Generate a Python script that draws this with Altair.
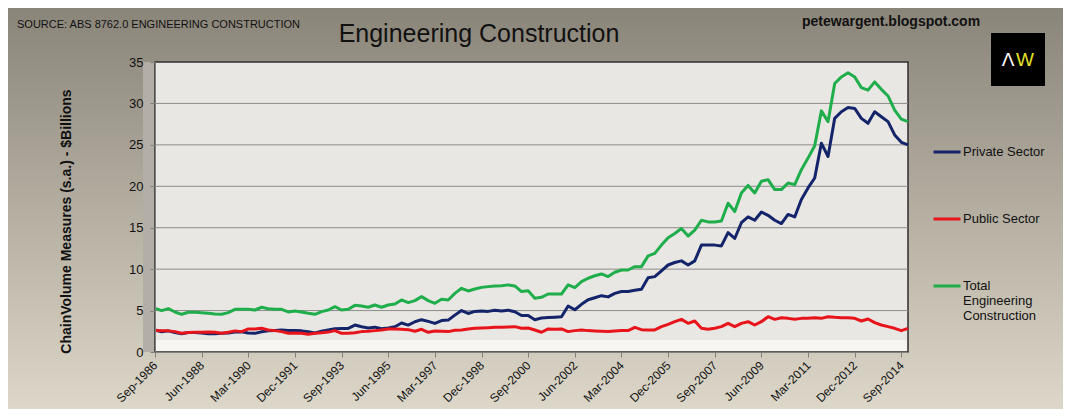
import pandas as pd
import altair as alt

# trimestres Sep-1986 .. Dec-2014
meses = ['Mar', 'Jun', 'Sep', 'Dec']
quarters = []
ano, q = 1986, 2
for _ in range(114):
    quarters.append(f"{meses[q]}-{ano}")
    q += 1
    if q == 4:
        q, ano = 0, ano + 1

tick_labels = ['Sep-1986', 'Jun-1988', 'Mar-1990', 'Dec-1991', 'Sep-1993', 'Jun-1995',
               'Mar-1997', 'Dec-1998', 'Sep-2000', 'Jun-2002', 'Mar-2004', 'Dec-2005',
               'Sep-2007', 'Jun-2009', 'Mar-2011', 'Dec-2012', 'Sep-2014']
y_ticks = [0, 5, 10, 15, 20, 25, 30, 35]
grid_values = [5, 10, 15, 20, 25, 30]

private_sector = [
    2.65, 2.45, 2.55, 2.35, 2.2, 2.35, 2.35, 2.3, 2.2, 2.2,
    2.25, 2.3, 2.4, 2.45, 2.3, 2.25, 2.45, 2.55, 2.6, 2.65,
    2.6, 2.6, 2.55, 2.45, 2.3, 2.5, 2.65, 2.8, 2.85, 2.85,
    3.25, 3.05, 2.9, 3.0, 2.8, 2.9, 3.05, 3.5, 3.25, 3.65,
    3.9, 3.7, 3.45, 3.8, 3.85, 4.45, 5.0, 4.65, 4.9, 4.95,
    4.9, 5.05, 4.95, 5.05, 4.85, 4.4, 4.4, 3.9, 4.1, 4.15,
    4.2, 4.25, 5.55, 5.1, 5.75, 6.3, 6.55, 6.8, 6.65, 7.08,
    7.3, 7.3, 7.45, 7.57, 8.95, 9.1, 9.8, 10.5, 10.8, 11.0,
    10.5, 11.0, 12.9, 12.9, 12.9, 12.8, 14.4, 13.7, 15.6, 16.3,
    15.9, 16.9, 16.5, 15.9, 15.5, 16.6, 16.3, 18.4, 19.8, 21.0,
    25.2, 23.6, 28.2, 29.0, 29.5, 29.4, 28.2, 27.6, 29.0, 28.4,
    27.8, 26.2, 25.3, 25.0,
]
public_sector = [
    2.6, 2.55, 2.55, 2.46, 2.26, 2.35, 2.38, 2.38, 2.4, 2.38,
    2.26, 2.38, 2.55, 2.46, 2.78, 2.78, 2.86, 2.66, 2.58, 2.46,
    2.26, 2.3, 2.26, 2.13, 2.26, 2.33, 2.4, 2.58, 2.26, 2.26,
    2.33, 2.46, 2.5, 2.58, 2.66, 2.78, 2.78, 2.74, 2.7, 2.5,
    2.74, 2.38, 2.54, 2.5, 2.46, 2.62, 2.66, 2.78, 2.86, 2.9,
    2.94, 2.98, 2.98, 3.02, 3.06, 2.86, 2.9, 2.66, 2.38, 2.78,
    2.74, 2.78, 2.46, 2.58, 2.66, 2.58, 2.54, 2.5, 2.46, 2.54,
    2.58, 2.58, 2.98, 2.7, 2.66, 2.66, 3.06, 3.34, 3.66, 3.94,
    3.46, 3.74, 2.86, 2.74, 2.86, 3.06, 3.46, 3.06, 3.46, 3.66,
    3.26, 3.66, 4.26, 3.94, 4.14, 4.06, 3.94, 4.06, 4.06, 4.14,
    4.06, 4.26, 4.18, 4.14, 4.14, 4.06, 3.74, 3.98, 3.54, 3.26,
    3.06, 2.86, 2.58, 2.86,
]
total_engineering = [
    5.27, 5.0, 5.23, 4.83, 4.55, 4.79, 4.79, 4.75, 4.67, 4.6,
    4.55, 4.75, 5.15, 5.15, 5.15, 5.07, 5.4, 5.23, 5.15, 5.15,
    4.83, 4.95, 4.83, 4.67, 4.55, 4.87, 5.07, 5.47, 5.07, 5.15,
    5.63, 5.55, 5.4, 5.67, 5.4, 5.67, 5.8, 6.28, 5.96, 6.2,
    6.68, 6.2, 5.88, 6.36, 6.28, 7.08, 7.69, 7.37, 7.6, 7.8,
    7.89, 7.97, 8.0, 8.1, 7.97, 7.29, 7.4, 6.48, 6.6, 7.0,
    7.0, 7.0, 8.1, 7.77, 8.5, 8.9, 9.2, 9.42, 9.1, 9.62,
    9.9, 9.9, 10.3, 10.3, 11.6, 11.9, 12.9, 13.8, 14.3, 14.9,
    14.0, 14.7, 15.9, 15.7, 15.7, 15.8, 17.96, 16.95, 19.2, 20.1,
    19.2, 20.6, 20.8, 19.6, 19.6, 20.4, 20.2, 22.0, 23.4, 24.9,
    29.1, 27.8, 32.4, 33.2, 33.7, 33.2, 31.9, 31.6, 32.6, 31.7,
    30.9, 29.2, 28.1, 27.8,
]

series_names = ['Private Sector', 'Public Sector', 'Total Engineering Construction']
series_colors = ['#14246a', '#e8141b', '#1fae4b']

W, H = 753, 290
FONTE = 'Liberation Sans, Arial, sans-serif'
TITULO_Y = 'ChainVolume Measures (s.a.) - $Billions'

df = pd.DataFrame({
    'trimestre': quarters * 3,
    'serie': [series_names[0]] * 114 + [series_names[1]] * 114 + [series_names[2]] * 114,
    'valor': private_sector + public_sector + total_engineering,
})
um = pd.DataFrame({'k': [0]})
escala_y = alt.Scale(domain=[0, 35], nice=False)

eixo_y = alt.Axis(values=y_ticks, grid=False, labelFontSize=13, labelFont=FONTE,
                  labelColor='#111', labelPadding=7, tickSize=5, tickColor='#808080',
                  domainColor='#808080', titleFontSize=14, titleFont=FONTE, titleFontWeight='bold',
                  titleColor='#111', titleAngle=270, titleX=-89, titleY=159, titleAlign='center',
                  titleBaseline='middle', zindex=1)

# fundo do quadro (degradê) e parede do gráfico
fundo = alt.Chart(um).mark_rect(
    color=alt.Gradient(gradient='linear', x1=0, x2=0, y1=0, y2=1,
                       stops=[alt.GradientStop(color='#8a8579', offset=0),
                              alt.GradientStop(color='#dcd7c8', offset=1)])
).encode(x=alt.value(-147), x2=alt.value(W + 155), y=alt.value(-54), y2=alt.value(H + 57))

lateral = alt.Chart(um).mark_rect(color='#b3afa6').encode(
    x=alt.value(-12), x2=alt.value(0), y=alt.value(0), y2=alt.value(H))
parede = alt.Chart(um).mark_rect(fill='#e8e7e3', stroke='#2e2e2e', strokeWidth=1.5).encode(
    x=alt.value(0), x2=alt.value(W), y=alt.value(0), y2=alt.value(H))
piso = alt.Chart(um).mark_rect(color='#f6f5f2').encode(
    x=alt.value(1), x2=alt.value(W - 1), y=alt.value(H - 12), y2=alt.value(H - 1))

grade = alt.Chart(pd.DataFrame({'g': grid_values})).mark_rule(color='#8c8c8c', strokeWidth=1).encode(
    y=alt.Y('g:Q', scale=escala_y, axis=eixo_y, title=TITULO_Y))

linhas = alt.Chart(df).mark_line(strokeWidth=3, strokeJoin='round').encode(
    x=alt.X('trimestre:O', sort=quarters, scale=alt.Scale(type='point', padding=0),
            axis=alt.Axis(values=tick_labels, labelAngle=-45, labelAlign='right', labelBaseline='middle',
                          labelFontSize=12, labelFont=FONTE, labelColor='#111', labelPadding=6,
                          tickSize=5, tickColor='#808080', domainColor='#808080', title=None, zindex=1)),
    y=alt.Y('valor:Q', scale=escala_y, title=TITULO_Y, axis=eixo_y),
    color=alt.Color('serie:N', scale=alt.Scale(domain=series_names, range=series_colors),
                    legend=alt.Legend(title=None, orient='none', legendX=777, legendY=75,
                                      symbolType='stroke', symbolSize=729, symbolStrokeWidth=3,
                                      labelFontSize=13, labelFont=FONTE, labelColor='#111',
                                      labelOffset=1, labelLimit=200, rowPadding=45,
                                      labelExpr="datum.label == 'Total Engineering Construction' ? "
                                                "['Total', 'Engineering', 'Construction'] : datum.label")),
)

titulo = alt.Chart(um).mark_text(text='Engineering Construction', align='center', baseline='alphabetic',
                                 fontSize=25, font=FONTE, color='#111').encode(
    x=alt.value(324), y=alt.value(-20))
fonte = alt.Chart(um).mark_text(text='SOURCE: ABS 8762.0 ENGINEERING CONSTRUCTION', align='left',
                                baseline='alphabetic', fontSize=11, font=FONTE, color='#111').encode(
    x=alt.value(-138), y=alt.value(-34))
blog = alt.Chart(um).mark_text(text='petewargent.blogspot.com', align='left', baseline='alphabetic',
                               fontSize=14, fontWeight='bold', font=FONTE, color='#111').encode(
    x=alt.value(647), y=alt.value(-36))
logo = alt.Chart(um).mark_rect(color='#000000').encode(
    x=alt.value(836), x2=alt.value(890), y=alt.value(-29), y2=alt.value(24))
logo_a = alt.Chart(um).mark_text(text='Λ', fontSize=19, font=FONTE, color='#ffffff',
                                 baseline='middle').encode(x=alt.value(853), y=alt.value(-2))
logo_w = alt.Chart(um).mark_text(text='W', fontSize=19, font=FONTE, color='#e4e02a',
                                 baseline='middle').encode(x=alt.value(870), y=alt.value(-2))

chart = alt.layer(fundo, lateral, parede, piso, grade, linhas,
                  titulo, fonte, blog, logo, logo_a, logo_w).properties(
    width=W,
    height=H,
    padding={'left': 147, 'top': 54, 'right': 155, 'bottom': 57},
    autosize=alt.AutoSizeParams(type='none'),
).configure(background='#b4af9f').configure_view(stroke='transparent')

chart.save("out.html", embed_options={"renderer": "svg", "actions": False})
